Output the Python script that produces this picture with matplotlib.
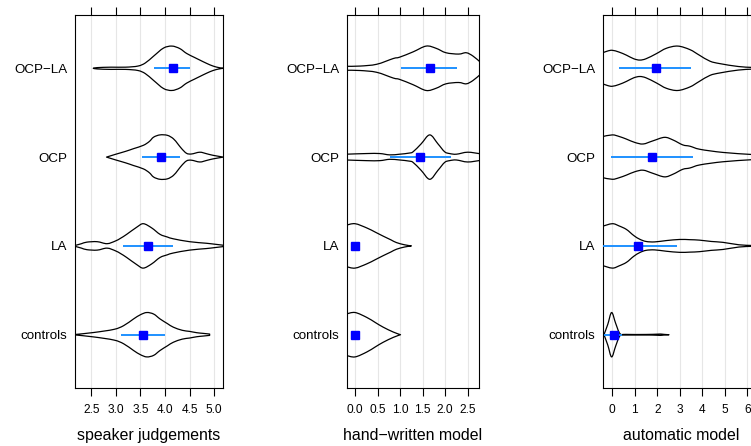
import matplotlib
matplotlib.use("Agg")
import matplotlib.pyplot as plt
from matplotlib.path import Path
from matplotlib.patches import PathPatch
import numpy as np

plt.rcParams['font.family'] = ['Liberation Sans', 'DejaVu Sans']

GROUPS = ["controls", "LA", "OCP", "OCP\u2212LA"]

# ---- speaker judgements -------------------------------------------------
speaker_title = "speaker judgements"
speaker_ticks = [2.5, 3.0, 3.5, 4.0, 4.5, 5.0]
speaker_tick_labels = ["2.5", "3.0", "3.5", "4.0", "4.5", "5.0"]
speaker_mean = [3.55, 3.66, 3.92, 4.16]
speaker_low = [3.11, 3.14, 3.54, 3.78]
speaker_high = [4.00, 4.17, 4.31, 4.52]
speaker_x = {
    "controls": [2.17, 2.55, 2.96, 3.16, 3.36, 3.5, 3.63, 3.77, 3.9, 4.05, 4.17, 4.35, 4.5, 4.65, 4.78, 4.91],
    "LA": [2.17, 2.3, 2.41, 2.62, 2.82, 2.99, 3.1, 3.22, 3.43, 3.56, 3.73, 3.9, 4.05, 4.17, 4.5, 4.84, 5.0, 5.19],
    "OCP": [2.81, 3.0, 3.2, 3.36, 3.56, 3.68, 3.77, 3.9, 4.05, 4.17, 4.26, 4.34, 4.44, 4.54, 4.71, 4.85, 4.98, 5.19],
    "OCP\u2212LA": [2.54, 2.62, 2.9, 3.2, 3.45, 3.6, 3.77, 3.97, 4.14, 4.3, 4.44, 4.6, 4.71, 4.85, 4.98, 5.1, 5.19],
}
speaker_density = {
    "controls": [0.01, 0.1, 0.24, 0.41, 0.71, 0.9, 1.0, 0.93, 0.71, 0.5, 0.34, 0.2, 0.15, 0.09, 0.06, 0.03],
    "LA": [0.02, 0.1, 0.17, 0.19, 0.1, 0.22, 0.35, 0.52, 0.85, 1.0, 0.81, 0.52, 0.4, 0.32, 0.19, 0.12, 0.08, 0.03],
    "OCP": [0.0, 0.13, 0.26, 0.38, 0.53, 0.7, 0.9, 1.0, 0.98, 0.83, 0.6, 0.38, 0.17, 0.14, 0.22, 0.15, 0.08, 0.0],
    "OCP\u2212LA": [0.0, 0.03, 0.05, 0.05, 0.1, 0.24, 0.55, 0.91, 1.0, 0.89, 0.67, 0.49, 0.37, 0.22, 0.1, 0.03, 0.0],
}

# ---- hand-written model -------------------------------------------------
hand_title = "hand\u2212written model"
hand_ticks = [0.0, 0.5, 1.0, 1.5, 2.0, 2.5]
hand_tick_labels = ["0.0", "0.5", "1.0", "1.5", "2.0", "2.5"]
hand_mean = [0.0, 0.0, 1.45, 1.66]
hand_low = [0.0, 0.0, 0.77, 1.03]
hand_high = [0.0, 0.0, 2.13, 2.27]
hand_x = {
    "controls": [-0.2, 0.0, 0.26, 0.45, 0.625, 0.85, 1.01],
    "LA": [-0.2, 0.0, 0.26, 0.45, 0.625, 0.8, 0.92, 1.1, 1.25],
    "OCP": [-0.2, 0.26, 0.55, 0.77, 0.99, 1.2, 1.29, 1.47, 1.66, 1.84, 1.99, 2.1, 2.25, 2.5, 2.78],
    "OCP\u2212LA": [-0.2, 0.11, 0.48, 0.85, 0.99, 1.29, 1.58, 1.8, 2.02, 2.3, 2.47, 2.62, 2.78],
}
hand_density = {
    "controls": [0.93, 1.0, 0.78, 0.55, 0.34, 0.12, 0.0],
    "LA": [0.93, 1.0, 0.81, 0.62, 0.44, 0.27, 0.15, 0.05, 0.0],
    "OCP": [0.13, 0.16, 0.16, 0.1, 0.13, 0.18, 0.24, 0.6, 1.0, 0.6, 0.24, 0.16, 0.13, 0.22, 0.15],
    "OCP\u2212LA": [0.09, 0.1, 0.18, 0.44, 0.5, 0.74, 1.0, 0.9, 0.7, 0.64, 0.7, 0.55, 0.28],
}

# ---- automatic model ----------------------------------------------------
auto_title = "automatic model"
auto_ticks = [0, 1, 2, 3, 4, 5, 6]
auto_tick_labels = ["0", "1", "2", "3", "4", "5", "6"]
auto_mean = [0.07, 1.12, 1.75, 1.93]
auto_low = [-0.37, -0.63, -0.06, 0.31]
auto_high = [0.42, 2.87, 3.60, 3.51]
auto_x = {
    "controls": [-0.37, -0.2, -0.03, 0.15, 0.34, 0.6, 1.5, 2.0, 2.15, 2.3, 2.52],
    "LA": [-0.45, 0.0, 0.3, 0.63, 0.95, 1.22, 1.5, 1.88, 2.4, 2.99, 3.45, 3.87, 4.4, 4.92, 5.63, 6.2, 6.5],
    "OCP": [-0.45, 0.0, 0.3, 0.63, 1.0, 1.37, 1.8, 2.32, 2.7, 3.13, 3.45, 3.9, 4.92, 6.16, 6.6],
    "OCP\u2212LA": [-0.45, -0.2, 0.0, 0.3, 0.63, 0.95, 1.22, 1.5, 1.96, 2.4, 2.91, 3.45, 3.87, 4.34, 4.78, 5.6, 6.2, 6.6],
}
auto_density = {
    "controls": [0.0, 0.47, 1.0, 0.51, 0.05, 0.015, 0.012, 0.025, 0.03, 0.015, 0.0],
    "LA": [0.88, 1.0, 0.9, 0.74, 0.47, 0.3, 0.2, 0.18, 0.24, 0.29, 0.28, 0.26, 0.2, 0.16, 0.05, 0.02, 0.0],
    "OCP": [0.92, 1.0, 0.93, 0.81, 0.66, 0.59, 0.73, 0.89, 0.77, 0.55, 0.49, 0.35, 0.21, 0.12, 0.1],
    "OCP\u2212LA": [0.69, 0.78, 0.81, 0.73, 0.59, 0.43, 0.37, 0.43, 0.66, 0.9, 1.0, 0.84, 0.59, 0.32, 0.21, 0.08, 0.04, 0.02],
}

HALF_WIDTH = 0.25
W, H = 751, 446
AX_BOTTOM, AX_TOP = 388, 15

panels = [
    dict(title=speaker_title, ticks=speaker_ticks, labels=speaker_tick_labels,
         mean=speaker_mean, low=speaker_low, high=speaker_high,
         xs=speaker_x, dens=speaker_density, xlim=(2.168, 5.182), left=75.0, right=223.0),
    dict(title=hand_title, ticks=hand_ticks, labels=hand_tick_labels,
         mean=hand_mean, low=hand_low, high=hand_high,
         xs=hand_x, dens=hand_density, xlim=(-0.185, 2.76), left=346.7, right=479.3),
    dict(title=auto_title, ticks=auto_ticks, labels=auto_tick_labels,
         mean=auto_mean, low=auto_low, high=auto_high,
         xs=auto_x, dens=auto_density, xlim=(-0.427, 6.52), left=602.7, right=759.0),
]


def smooth_curve(pts):
    """Cubic Bezier segments (Catmull-Rom style) passing through pts."""
    ext = np.vstack([pts[0], pts, pts[-1]])
    verts, codes = [], []
    for i in range(len(pts) - 1):
        p0, p1, p2, p3 = ext[i], ext[i + 1], ext[i + 2], ext[i + 3]
        verts += [p1 + (p2 - p0) / 6.0, p2 - (p3 - p1) / 6.0, p2]
        codes += [Path.CURVE4] * 3
    return verts, codes


def violin_path(x, d, y0):
    x = np.asarray(x, float)
    d = np.asarray(d, float) * HALF_WIDTH
    upper = np.column_stack([x, y0 + d])
    lower = np.column_stack([x[::-1], y0 - d[::-1]])
    verts = [upper[0]]
    codes = [Path.MOVETO]
    v, c = smooth_curve(upper)
    verts += v; codes += c
    verts.append(lower[0]); codes.append(Path.LINETO)
    v, c = smooth_curve(lower)
    verts += v; codes += c
    verts.append(upper[0]); codes.append(Path.CLOSEPOLY)
    return Path(np.array(verts), codes)


fig = plt.figure(figsize=(W / 100, H / 100), dpi=100)

for p in panels:
    ax = fig.add_axes([p["left"] / W, (H - AX_BOTTOM) / H,
                       (p["right"] - p["left"]) / W, (AX_BOTTOM - AX_TOP) / H])
    ax.set_xlim(*p["xlim"])
    ax.set_ylim(0.4, 4.6)
    ax.set_axisbelow(True)
    ax.set_xticks(p["ticks"])
    ax.set_xticklabels(p["labels"])
    ax.grid(axis="x", color="#E6E6E6", lw=0.8)
    ax.set_yticks(range(1, len(GROUPS) + 1))
    ax.set_yticklabels(GROUPS)
    ax.tick_params(axis="x", direction="out", length=5.8, width=0.8, top=True,
                   labeltop=False, labelsize=8.6, pad=6, colors="black")
    ax.tick_params(axis="y", length=0, pad=5.4, labelsize=9.6)
    for s in ax.spines.values():
        s.set_linewidth(0.8)

    for i, g in enumerate(GROUPS):
        y0 = i + 1
        patch = PathPatch(violin_path(p["xs"][g], p["dens"][g], y0),
                          facecolor="none", edgecolor="black", lw=0.9,
                          joinstyle="round")
        ax.add_patch(patch)
        ax.plot([p["low"][i], p["high"][i]], [y0, y0], color="#1E90FF",
                lw=1.4, solid_capstyle="butt", zorder=3)
        ax.plot([p["mean"][i]], [y0], marker="s", ms=5.8, color="#0000FF",
                mec="#0000FF", ls="none", zorder=4)

    ax.set_xlabel(p["title"], fontsize=11.4, labelpad=8.5)

fig.savefig("out.png", dpi=100)
